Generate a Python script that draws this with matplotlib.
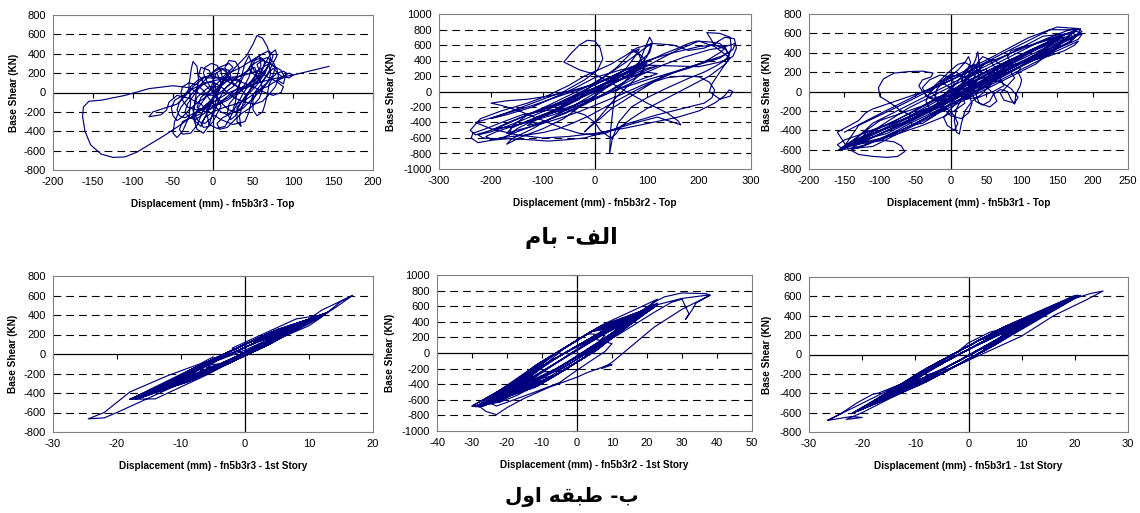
import matplotlib
matplotlib.use('Agg')
import matplotlib.pyplot as plt

plt.rcParams['font.family'] = ['Liberation Sans', 'DejaVu Sans']
plt.rcParams['axes.unicode_minus'] = False

# ---------------- data (displacement mm, base shear kN) ----------------
top_r3 = [(0,0),(10,80),(25,150),(35,120),(30,40),(15,-60),(0,-150),(-10,-200),(-20,-150),(-15,-50),(0,50),(15,180),
          (25,260),(20,300),(5,250),(-10,130),(-25,0),(-40,-150),(-48,-300),(-50,-420),(-45,-465),(-38,-400),(-30,-250),
          (-28,-100),(-30,80),(-27,250),(-25,320),(-20,270),(-18,120),(-22,-60),(-25,-250),(-20,-380),(-12,-420),(-5,-340),
          (0,-200),(5,-50),(10,100),(20,200),(35,260),(50,340),(58,380),(60,280),(52,150),(40,20),(30,-120),(22,-250),
          (15,-350),(5,-370),(-5,-330),(-8,-200),(0,-50),(12,120),(28,260),(42,380),(50,500),(55,590),(62,560),(68,470),
          (72,350),(65,200),(55,80),(42,-40),(30,-150),(30,-300),(35,-350),(33,-250),(38,-100),(48,60),(62,250),(72,400),
          (78,440),(80,380),(70,220),(60,80),(50,-20),(45,-200),(40,-300),(25,-330),(10,-280),(-5,-200),(-15,-120),
          (-30,-60),(-45,-30),(-55,-100),(-58,-180),(-65,-230),(-80,-250),(-75,-200),(-60,-160),(-45,-120),(-35,-40),
          (-25,60),(-10,160),(5,200),(10,100),(0,-80),(-10,-250),(-15,-350),(-22,-300),(-25,-180),(-20,-50),(-5,60),
          (8,60),(15,130),(18,200),(12,240),(4,200),(0,120),(-3,30),(-10,-60),(-18,-150),(-22,-240),(-18,-300),
          (-10,-320),(-2,-260),(3,-170),(8,-60),(15,40),(25,120),(35,180),(45,230),(52,260),(55,200),(48,120),(38,40),
          (28,-40),(20,-120),(18,-220),(22,-280),(28,-240),(32,-150),(40,-40),(50,60),(58,150),(62,240),(65,320),
          (60,360),(52,330),(48,250),(45,160),(40,80),(30,10),(18,-60),(5,-120),(-8,-160),(-20,-180),(-32,-150),
          (-38,-80),(-40,0),(-38,60),(-30,100),(-20,80),(-12,20),(-5,-60),(2,-140),(10,-200),(18,-230),(25,-180),
          (28,-100),(30,0),(34,100),(40,200),(48,280),(58,330),(68,360),(75,320),(78,260),(75,180),(68,100),(60,20),
          (52,-40),(45,-100),(38,-160),(30,-200),(20,-180),(12,-120),(5,-40),(-2,40),(-8,120),(-12,200),(-10,260),
          (-2,300),(5,280),(10,220),(12,140),(10,60),(5,-20),(-5,-100),(-15,-170),(-25,-220),(-35,-260),(-42,-240),
          (-45,-180),(-42,-100),(-35,-20),(-28,60),(-20,120),(-12,160),(0,170),(12,140),(22,100),(30,60),(40,40),
          (50,80),(58,140),(65,220),(70,280),(72,200),(70,120),(62,60),(55,0),(50,-80),(50,-180),(55,-240),(62,-200),
          (65,-120),(68,-20),(70,80),(75,160),(80,200),(88,220),(92,200),(90,160),(82,130),(75,100),(68,60),(60,40),
          (50,-20),(40,-80),(28,-120),(15,-150),(0,-200),(-10,-260),(-15,-320),(-12,-360),(-5,-350),(0,-300),
          (5,-220),(10,-140),(0,0),(-10,80),(-18,180),(-15,260),(-5,230),(0,140),(3,40),(0,-60),(-8,-150),
          (-15,-220),(-28,-260),(-38,-300),(-42,-380),(-38,-430),(-28,-420),(-20,-340),(-15,-240),(-10,-140),
          (0,-60),(12,20),(22,90),(30,170),(33,250),(28,320),(20,330),(15,260),(18,180),(25,100),(35,30),(42,-40),
          (40,-120),(32,-180),(22,-220),(12,-260),(5,-320),(8,-380),(18,-360),(25,-300),(35,-220),(48,-150),
          (58,-60),(62,30),(60,110),(52,180),(45,250),(50,330),(62,400),(70,430),(75,380),(72,300),(65,230),
          (58,170),(48,100),(38,40),(28,-20),(18,-80),(5,-130),(-5,-180),(-15,-240),(-22,-280),(-30,-260),
          (-35,-200),(-32,-120),(-25,-40),(-18,40),(-10,100),(0,110),(10,60),(18,0),(28,-60),(40,-100),(52,-120),
          (62,-90),(70,-20),(78,60),(82,150),(80,240),(72,300),(62,330),(55,290),(58,220),(68,160),(80,110),
          (88,60),(85,0),(75,-30),(62,10),(50,60),(38,100),(25,130),(12,140),(0,120),(-12,90),(-25,40),(-35,-20),
          (-48,-80),(-52,-160),(-50,-240),(-45,-290),(-38,-250),(-30,-180),(-20,-110),(-8,-40),(5,30),(15,100),
          (22,170),(20,230),(10,250),(0,210),(-8,150),(15,150),(35,170),(55,220),(70,300),(85,230),(90,150),
          (88,90),(80,130),(95,200),(100,180),(95,150),(85,170),(75,250),(68,180),(60,100),(50,250),(45,380),
          (40,300),(35,150),(25,60),(15,0),(0,-30),(-15,-20),(-30,50),(-50,70),(-80,40),(-110,-30),(-140,-80),
          (-155,-90),(-162,-150),(-163,-250),(-160,-400),(-153,-540),(-140,-635),(-125,-670),(-110,-665),
          (-95,-615),(-80,-540),(-60,-440),(-40,-330),(-20,-210),(0,-100),(20,0),(40,60),(60,110),(80,150),
          (100,180),(120,220),(145,270)]

top_r2 = [(0,0),(30,150),(60,300),(80,480),(85,550),(70,500),(40,300),(0,100),(-40,-80),(-80,-250),(-120,-380),
          (-150,-480),(-165,-560),(-160,-450),(-130,-300),(-90,-180),(-50,-50),(-10,80),(20,200),(60,380),(100,580),
          (110,620),(105,500),(80,350),(40,150),(0,-50),(-30,-200),(-60,-350),(-100,-480),(-140,-580),(-170,-680),
          (-160,-610),(-120,-480),(-80,-330),(-40,-180),(0,-20),(40,120),(80,260),(120,400),(160,540),(200,650),
          (230,580),(250,480),(260,430),(250,350),(220,200),(180,60),(140,-80),(100,-220),(70,-350),(50,-450),
          (40,-550),(30,-600),(10,-500),(0,-400),(-20,-300),(-60,-220),(-100,-250),(-140,-300),(-180,-400),
          (-210,-480),(-235,-540),(-238,-600),(-225,-660),(-200,-630),(-170,-610),(-130,-620),(-90,-640),(-50,-620),
          (-20,-600),(10,-540),(40,-480),(80,-400),(120,-330),(165,-430),(160,-380),(140,-280),(100,-150),(60,0),
          (20,150),(0,220),(-30,280),(-60,380),(-45,500),(-30,600),(-15,660),(0,650),(10,560),(15,420),(5,280),
          (-20,150),(-60,0),(-100,-100),(-140,-200),(-180,-300),(-200,-350),(-170,-300),(-120,-200),(-80,-80),
          (-40,40),(0,180),(50,280),(100,340),(150,330),(200,320),(240,380),(265,450),(272,560),(268,680),(250,700),
          (230,620),(210,560),(180,530),(150,600),(110,620),(80,560),(60,470),(30,350),(0,260),(-20,200),(-50,80),
          (-90,-50),(-130,-150),(-180,-250),(-220,-350),(-240,-500),(-230,-560),(-200,-500),(-160,-380),(-110,-250),
          (-60,-120),(-10,20),(40,170),(80,300),(105,700),(110,640),(100,450),(80,280),(60,150),(40,0),(35,-200),
          (30,-500),(28,-800),(33,-620),(45,-400),(70,-200),(100,-80),(140,50),(180,170),(210,250),(230,320),
          (250,400),(258,480),(250,550),(230,600),(215,760),(240,750),(260,700),(262,560),(255,400),(240,250),
          (225,100),(220,0),(240,-100),(260,-60),(265,0),(258,20),(250,-50),(230,-150),(200,-250),(160,-330),
          (110,-400),(60,-470),(0,-540),(-50,-580),(-100,-600),(-150,-560),(-200,-480),(-230,-400),
          (-180,-300),(-120,-180),(-60,-40),(0,100),(50,250),(100,400),(150,500),(200,580),(230,600),(250,580),
          (255,500),(240,430),(200,350),(150,250),(100,150),(50,40),(0,-80),(-50,-200),(-100,-320),(-150,-430),
          (-190,-520),(-210,-580),(-200,-620),(-180,-600),(-150,-520),(-110,-420),(-70,-310),(-30,-190),(10,-60),
          (50,80),(90,220),(130,340),(170,440),(200,500),(220,540),(240,560),(260,600),(270,620),(265,540),
          (245,460),(210,380),(170,290),(130,190),(90,80),(50,-40),(10,-150),(-30,-260),(-70,-350),(-110,-430),
          (-150,-500),(-170,-540),(-160,-470),(-130,-380),(-90,-270),(-50,-150),(-10,-30),(30,90),(70,210),
          (100,300),(120,330),(100,280),(70,180),(40,60),(10,-60),(-20,-170),(-60,-290),(-100,-390),(-130,-440),
          (-110,-350),(-80,-250),(-40,-120),(0,10),(40,130),(75,250),(90,380),(85,470),(70,540),(80,520),(95,420),
          (95,300),(80,180),(60,50),(40,-80),(25,-200),(10,-320),(-5,-430),(-20,-520),(-10,-450),(10,-350),
          (30,-230),(60,-100),(90,30),(120,150),(150,240),(180,300),(200,350),(220,420),(240,500),(250,560),
          (240,620),(220,640),(195,650),(180,620),(160,560),(130,480),(100,380),(70,280),(40,180),(10,80),
          (-20,-20),(-60,-140),(-100,-260),(-140,-370),(-170,-450),(-200,-520),(-225,-560),(-215,-600),(-190,-610),
          (-160,-580),(-130,-560),(-100,-530),(-70,-480),(-40,-400),(-10,-310),(20,-200),(50,-90),(80,20),
          (110,120),(140,180),(170,200),(200,190),(220,120),(230,20),(225,-80),(210,-150),(180,-200),(150,-250),
          (120,-300),(90,-360),(60,-420),(40,-480),(20,-540),(0,-560),(-30,-540),(-60,-480),(-90,-400),
          (-120,-320),(-150,-240),(-180,-180),(-200,-150),(-170,-120),(-130,-100),(-90,-60),(-50,0),(-10,80),
          (30,170),(70,260),(100,330),(60,250),(20,150),(-10,60),(-30,-100),(-60,-200),(-90,-300),(-120,-350),
          (-100,-300),(-60,-240),(-30,-150),(0,-60),(20,40),(40,120),(60,200),(80,280),(90,350),(70,320),
          (40,220),(10,120),(-20,20),(-50,-80),(-80,-180),(-110,-260),(-140,-330),(-170,-420),(-190,-480),
          (-160,-450),(-120,-380),(-80,-300),(-40,-200),(0,-100),(30,-10),(60,80),(90,160),(120,230),(100,250),
          (60,180),(20,100),(-10,20),(-40,-60),(-70,-150),(-100,-230),(-80,-200),(-50,-130),(-20,-40),(10,60),
          (40,160),(70,260),(100,360),(80,330)]

top_r1 = [(0,0),(12,60),(25,140),(35,200),(38,260),(32,280),(22,230),(15,150),(5,60),(-5,-20),(-15,-90),(-25,-160),
          (-30,-220),(-25,-250),(-15,-200),(-8,-120),(0,-40),(10,40),(20,120),(28,210),(35,330),(38,410),(40,300),
          (42,180),(35,80),(25,0),(15,-80),(8,-180),(5,-300),(8,-420),(12,-440),(15,-330),(20,-200),(30,-100),
          (45,-20),(55,60),(60,150),(62,250),(55,330),(45,360),(38,300),(30,200),(20,100),(10,10),(0,-80),
          (-10,-140),(-20,-180),(-30,-170),(-35,-100),(-30,-20),(-20,60),(-10,120),(0,180),(8,200),(15,160),(18,80),
          (12,0),(0,-60),(-12,-100),(-22,-60),(-20,20),(-10,100),(0,160),(10,220),(20,300),(25,360),(28,300),
          (22,200),(15,110),(30,130),(50,200),(70,280),(90,350),(110,420),(130,490),(150,550),(165,600),(175,630),
          (183,650),(180,600),(170,560),(155,510),(140,450),(120,380),(100,300),(80,220),(60,140),(40,60),(20,-20),
          (0,-100),(-20,-170),(-40,-240),(-60,-310),(-80,-380),(-100,-440),(-120,-500),(-140,-550),(-152,-590),
          (-157,-600),(-150,-560),(-135,-500),(-115,-430),(-95,-360),(-75,-290),(-55,-210),(-35,-130),(-15,-50),
          (5,30),(25,110),(45,190),(65,260),(85,330),(105,390),(125,450),(140,500),(148,530),(140,470),(125,400),
          (105,320),(85,250),(65,180),(45,100),(25,20),(5,-60),(-15,-140),(-35,-200),(-55,-250),(-70,-200),
          (-85,-120),(-100,-50),(-102,40),(-95,130),(-80,190),(-60,205),(-40,210),(-25,190),(-28,150),(-40,120),
          (-45,60),(-40,0),(-30,-60),(-15,-80),(0,-40),(15,30),(30,90),(50,170),(70,240),(90,310),(110,390),
          (125,460),(138,520),(150,560),(160,590),(170,610),(178,620),(185,590),(180,540),(165,490),(145,430),
          (125,360),(105,280),(85,200),(65,120),(45,40),(25,-40),(5,-110),(-15,-180),(-35,-250),(-55,-320),
          (-75,-400),(-95,-470),(-115,-540),(-130,-580),(-140,-600),(-135,-540),(-120,-470),(-100,-400),(-80,-330),
          (-60,-260),(-40,-180),(-20,-100),(0,-20),(20,60),(40,140),(60,220),(80,300),(100,380),(120,450),
          (135,500),(150,540),(160,560),(155,500),(140,440),(120,370),(100,290),(80,220),(60,150),(40,70),(20,-10),
          (0,-90),(-20,-160),(-40,-230),(-60,-300),(-80,-370),(-100,-440),(-120,-510),(-135,-560),(-140,-610),
          (-130,-650),(-110,-670),(-90,-680),(-75,-670),(-65,-620),(-70,-560),(-80,-520),(-100,-500),(-115,-520),
          (-125,-480),(-120,-420),(-100,-370),(-80,-320),(-60,-270),(-40,-200),(-20,-130),(0,-60),(20,10),(40,90),
          (60,170),(75,240),(85,300),(80,360),(85,420),(100,460),(115,480),(130,520),(145,560),(160,590),(172,600),
          (178,580),(170,520),(155,470),(135,410),(115,340),(100,270),(95,200),(100,120),(98,60),(92,-30),(90,-130),
          (85,-80),(80,0),(70,20),(60,-30),(55,-100),(45,-140),(35,-100),(30,-20),(25,60),(40,130),(60,210),
          (80,290),(100,360),(120,430),(140,490),(160,540),(175,570),(185,600),(175,560),(160,510),(145,460),
          (125,400),(105,330),(85,260),(65,190),(45,110),(25,30),(5,-50),(-15,-130),(-35,-200),(-55,-280),
          (-75,-350),(-95,-420),(-115,-490),(-135,-540),(-155,-580),(-160,-550),(-150,-500),(-130,-450),(-110,-400),
          (-90,-340),(-70,-270),(-50,-200),(-30,-120),(-10,-40),(10,40),(30,120),(50,200),(70,270),(90,340),
          (110,420),(130,480),(150,530),(168,580),(175,560),(165,500),(150,440),(130,370),(110,300),(90,230),
          (70,150),(50,70),(30,-10),(10,-90),(-10,-170),(-30,-250),(-50,-330),(-70,-400),(-90,-460),(-110,-520),
          (-125,-560),(-145,-590),(-160,-420),(-150,-380),(-130,-300),(-120,-220),(-110,-180),(-90,-130),(-70,-80),
          (-50,-30),(-30,20),(-10,80),(10,150),(30,220),(50,290),(70,350),(90,410),(110,470),(130,530),(150,590),
          (165,630),(175,650),(180,640),(185,620),(178,580),(165,540),(150,500),(130,440),(110,370),(90,300),
          (70,220),(50,140),(30,60),(10,-20),(-10,-100),(-30,-170),(-50,-240),(-70,-310),(-90,-380),(-110,-450),
          (-130,-510),(-150,-570),(-158,-600),(-120,-520),(-80,-450),(-40,-350),(-10,-260),(5,-200),(20,-120),
          (15,-40),(0,40),(-15,100),(-5,150),(10,170),(25,130),(35,50),(30,-30),(20,-80),(40,-60),(60,0),
          (75,60),(70,130),(55,160),(60,230),(80,260),(100,300),(120,330),(140,370),(160,420),(175,480),(180,520),
          (150,420),(110,300),(70,160),(40,60),(20,-20),(-20,-100),(-35,-50),(-40,40),(-30,120),(-15,170),(0,150),
          (5,80),(-5,0),(-15,-80),(-10,-180),(0,-250),(15,-280),(25,-220),(30,-120),(25,-30),(15,40),(20,130),
          (35,200),(50,230),(55,160),(45,80),(35,-20),(40,-120),(55,-160),(65,-100),(60,-20),(50,50),(55,130),
          (70,180),(85,200),(90,140),(80,60),(70,-20),(75,-90),(90,-120),(95,-60),(85,30),(70,100),(55,120),
          (40,70),(25,-10),(10,-100),(0,-180),(-10,-270),(-5,-350),(5,-400),(10,-330),(5,-250),(-5,-180),
          (-20,-150),(-35,-180),(-50,-230),(-60,-280),(-55,-340),(-40,-330),(-25,-260),(-10,-180),(5,-90),(20,0),
          (30,90),(35,180),(30,260),(20,300),(10,280),(0,220),(-10,150),(-20,80),(-30,10),(-20,-60),(0,-40),
          (15,20),(30,60),(40,140),(38,220),(50,300),(60,330),(70,280),(65,200),(50,150),(30,100),(15,60),(0,0),
          (-40,-150),(-100,-300),(-150,-565),(-100,-510),(-40,-290),(20,-66),(80,156),(140,378),(175,637),
          (140,638),(100,490),(40,268),(-20,46),(-80,-176),(-130,-350),(-150,-565),(-140,-530),(-90,-433),
          (-30,-211),(30,11),(90,233),(150,455),(170,600),(130,571),(70,339),(10,117),(-50,-105),(-110,-327),
          (-140,-530),(-120,-454),(-70,-329),(-10,-130),(50,95),(110,337),(160,582),(120,494),(60,272),(0,50),
          (-60,-172),(-120,-454),(-155,-600),(-110,-567),(-60,-382),(0,-160),(60,62),(120,284),(165,560),
          (180,650),(150,665),(110,557),(60,362),(0,140),(-60,-82),(-110,-267),(-150,-420)]

first_r3 = [(-5,-110),(-2,-80),(1,15),(4,160),(1,130),(-2,35),
            (-6,-140),(-2,-80),(2,45),(5,190),(2,160),(-2,35),
            (-9,-230),(-4,-140),(3,75),(7,250),(3,190),(-4,-25),
            (-11,-290),(-5,-170),(2,45),(8,280),(1,130),(-6,-85),
            (-13,-350),(-6,-200),(3,75),(10,340),(4,220),(-5,-55),
            (-14,-380),(-7,-230),(2,45),(11,370),(3,190),(-7,-115),
            (-15,-410),(-6,-200),(4,105),(12,400),(5,250),(-6,-85),
            (-16,-440),(-8,-260),(3,75),(12.5,415),(4,220),(-8,-145),
            (-17,-460),(-7,-230),(4,105),(13,430),(3,190),(-9,-175),
            (-18,-465),(-9,-290),(2,45),(12,400),(5,250),(-8,-145),
            (-16.5,-455),(-8,-260),(3,75),(11.5,385),(4,220),(-7,-115),
            (-15,-410),(-7,-230),(2,45),(10.5,355),(3,190),(-6,-85),
            (-12,-320),(-5,-170),(2,45),(9,310),(3,190),(-5,-55),
            (-10,-260),(-4,-140),(1,15),(6,220),(1,130),(-4,-25),
            (-7,-170),(-3,-110),(1,15),(4,160),(1,130),(-3,5),
            (-17,-460),(-10,-290),(0,15),(12,400),(3,160),(-8,-175),
            (-15,-410),(-9,-260),(-1,-15),(11,370),(4,190),(-6,-115),
            (-13,-350),(-7,-200),(1,45),(10,340),(2,130),(-9,-205),
            (-18,-465),(-11,-320),(-2,-45),(13,430),(6,250),(-5,-85),
            (-16,-440),(-12,-350),(-3,-75),(12.5,415),(7,280),(-4,-55),
            (-14,-380),(-8,-230),(0,15),(9,310),(1,100),(-10,-235),
            (-11,-290),(-6,-170),(2,75),(7,250),(0,70),(-7,-145),
            (-9,-230),(-3,-80),(-1,-15),(5,190),(2,130),(-6,-115),
            (-18,-465),(-14,-460),(-6,-215),(12,400),(8,360),(-2,60),
            (0,0),(5,150),(10,310),(14,470),(16.8,600),(15,540),(12,380),(10,290),(5,150),(0,0),(-5,-150),
            (-10,-300),(-15,-450),(-20,-600),(-22,-655),(-24.5,-665),(-22,-600),(-18,-390),(-12,-220),
            (-7,-100),(-5,-30),(-4,-60),(0,40),(4,160),(8,270),(12,450),(16.8,600)]

first_r2 = [(-10,-240),(-4,-234),(2,-58),(8,228),(3,248),(-4,46),
            (-15,-370),(-6,-286),(3,-32),(12,332),(4,274),(-6,-6),
            (-20,-500),(-8,-338),(4,-6),(16,436),(5,300),(-8,-58),
            (-24,-604),(-10,-390),(5,20),(19,514),(6,326),(-10,-110),
            (-27,-682),(-11,-416),(5,20),(21,566),(7,352),(-11,-136),
            (-29,-690),(-12,-442),(6,46),(23,690),(8,378),(-12,-162),
            (-26,-656),(-10,-390),(4,-6),(22,592),(6,326),(-9,-84),
            (-22,-552),(-9,-364),(3,-32),(20,540),(5,300),(-8,-58),
            (-18,-448),(-7,-312),(3,-32),(17,462),(4,274),(-7,-32),
            (-28,-680),(-11,-416),(5,20),(22.5,605),(7,352),(-11,-136),
            (-25,-630),(-10,-390),(4,-6),(18,488),(5,300),(-9,-84),
            (-21,-526),(-8,-338),(3,-32),(14,384),(4,274),(-7,-32),
            (-28,-690),(-18,-518),(0,-50),(22,620),(10,350),(-14,-274),
            (-25,-630),(-15,-440),(5,80),(20,540),(3,168),(-16,-326),
            (-22,-552),(-12,-362),(-2,-102),(18,488),(8,298),(-5,-40),
            (-20,-500),(-5,-180),(8,158),(15,410),(0,90),(-12,-222),
            (-27,-682),(-20,-570),(10,210),(23,618),(15,480),(-8,-118),
            (-24,-604),(-10,-310),(2,2),(19,514),(12,402),(-18,-378),
            (-17,-422),(-9,-284),(3,28),(13,358),(-3,12),(-10,-170),
            (-30,-680),(-22,-622),(-6,-206),(21,566),(5,220),(-20,-430),
            (-30,-680),(-28,-690),(-24,-620),(-19,-490),(-14,-350),(-9,-210),(-4,-70),(1,70),(6,210),(11,350),
            (16,480),(20,580),(23,640),(22,580),(18,470),(13,320),(8,160),(3,10),(-2,-140),(-7,-280),(-12,-420),
            (-17,-540),(-22,-630),(-26,-660),(-23,-600),(-18,-470),(-13,-330),(-8,-190),(-3,-50),(2,90),(7,230),
            (12,370),(17,500),(22,650),(25,720),(30,770),(37,760),(38,740),(34,640),(33,560),(31,430),(32,500),
            (30,690),(27,650),(22,520),(17,380),(12,240),(7,110),(3,0),(0,-80),(-4,-180),(-9,-300),(-15,-440),
            (-20,-560),(-22,-600),(-20,-540),(-15,-400),(-10,-250),(-5,-100),(0,50),(5,180),(10,120),(8,20),
            (4,-100),(0,-220),(-5,-380),(-12,-500),(-18,-600),(-23,-680),(-25,-640),(-20,-500),(-14,-340),
            (-8,-180),(-2,-20),(4,140),(10,300),(16,450),(23,620),(30,700),(37,740),(38,740),(30,560),(22,330),
            (14,30),(10,-120),(7,-200),(10,-150),(8,-170),(3,-250),(0,-310),(-8,-440),(-15,-580),(-20,-700),
            (-23,-790),(-26,-750),(-28,-680)]

first_r1 = [(-8,-212),(-3,-137),(2,13),(7,223),(2,148),(-3,-2),
            (-12,-328),(-5,-195),(3,42),(10,310),(3,177),(-4,-31),
            (-15,-415),(-6,-224),(3,42),(13,397),(5,235),(-6,-89),
            (-18,-502),(-7,-253),(4,71),(16,484),(5,235),(-7,-118),
            (-20,-560),(-8,-282),(4,71),(18,542),(6,264),(-8,-147),
            (-21,-589),(-8,-282),(5,100),(20,610),(7,293),(-8,-147),
            (-19,-531),(-7,-253),(5,100),(19,571),(6,264),(-7,-118),
            (-17,-473),(-6,-224),(4,71),(17,513),(5,235),(-6,-89),
            (-22,-610),(-9,-311),(4,71),(20.5,614),(7,293),(-9,-176),
            (-20.5,-575),(-8,-282),(5,100),(21,610),(6,264),(-8,-147),
            (-16,-444),(-6,-224),(3,42),(15,455),(4,206),(-6,-89),
            (-13,-357),(-5,-195),(3,42),(12,368),(4,206),(-5,-60),
            (-10,-270),(-4,-166),(2,13),(8,252),(2,148),(-3,-2),
            (-20,-560),(-12,-363),(0,-10),(19,571),(5,200),(-9,-211),
            (-18,-502),(-10,-305),(2,48),(17,513),(8,287),(-6,-124),
            (-16,-444),(-11,-334),(-1,-39),(15,455),(3,142),(-10,-240),
            (-21,-589),(-14,-421),(-3,-97),(20,600),(10,345),(-4,-66),
            (-14,-386),(-6,-189),(6,164),(13,397),(1,84),(-8,-182),
            (-22,-610),(-15,-450),(9,251),(21,610),(12,403),(-12,-298),
            (-19,-531),(-13,-392),(7,193),(18,542),(-2,-3),(-14,-356),
            (-12,-328),(-2,-73),(5,135),(10,310),(-1,26),(-6,-124),
            (-26.5,-680),(-24,-610),(-21,-500),(-18,-410),(-17,-400),(-12,-290),(-8,-190),(-4,-60),(0,120),
            (4,230),(8,290),(12,350),(15,470),(18,540),(20,580),(23,630),(25.3,655),(22,560),(16,400),(10,190),
            (4,40),(0,-60),(-5,-190),(-10,-330),(-15,-460),(-20,-600),(-23,-670),(-20,-650),(-22,-640),(-26.5,-680)]

top_caption = "\uFEE1\uFE8E\uFE91 -\uFED2\uFEDF\uFE8D"                 # الف- بام
bottom_caption = "\uFEDD\uFEED\uFE8D \uFEEA\uFED8\uFE92\uFEC3 -\uFE8F"   # ب- طبقه اول

panels = [
    dict(data=top_r3, xt=list(range(-200, 201, 50)), yt=list(range(-800, 801, 200)),
         xl="Displacement (mm) - fn5b3r3 - Top", box=(53, 15, 373, 170), ylx=14),
    dict(data=top_r2, xt=list(range(-300, 301, 100)), yt=list(range(-1000, 1001, 200)),
         xl="Displacement (mm) - fn5b3r2 - Top", box=(439, 14, 751, 169), ylx=391),
    dict(data=top_r1, xt=list(range(-200, 251, 50)), yt=list(range(-800, 801, 200)),
         xl="Displacement (mm) - fn5b3r1 - Top", box=(809, 14, 1128, 169), ylx=767),
    dict(data=first_r3, xt=list(range(-30, 21, 10)), yt=list(range(-800, 801, 200)),
         xl="Displacement (mm) - fn5b3r3 - 1st Story", box=(53, 276, 373, 432), ylx=13),
    dict(data=first_r2, xt=list(range(-40, 51, 10)), yt=list(range(-1000, 1001, 200)),
         xl="Displacement (mm) - fn5b3r2 - 1st Story", box=(437, 275, 752, 431), ylx=390),
    dict(data=first_r1, xt=list(range(-30, 31, 10)), yt=list(range(-800, 801, 200)),
         xl="Displacement (mm) - fn5b3r1 - 1st Story", box=(809, 277, 1128, 432), ylx=767),
]

W, H = 1140, 513
fig = plt.figure(figsize=(W / 100, H / 100), dpi=100)
fig.patch.set_facecolor('white')

for p in panels:
    l, t, r, b = p['box']
    ax = fig.add_axes([l / W, 1 - b / H, (r - l) / W, (b - t) / H])
    xs = [q[0] for q in p['data']]
    ys = [q[1] for q in p['data']]
    ax.plot(xs, ys, color='#00007F', lw=0.85, zorder=3)
    xt, yt = p['xt'], p['yt']
    ax.set_xlim(xt[0], xt[-1])
    ax.set_ylim(yt[0], yt[-1])
    ax.set_xticks(xt)
    ax.set_yticks(yt)
    for v in yt[1:-1]:
        if v != 0:
            ax.axhline(v, color='black', lw=0.8, ls=(0, (7, 4.5)), zorder=1)
    ax.axhline(0, color='black', lw=0.9, zorder=2)
    ax.axvline(0, color='black', lw=0.9, zorder=2)
    # small Excel-style tick marks on the zero axes
    ax.plot(xt, [0] * len(xt), ls='none', marker=3, ms=3.5, mew=0.8, color='black', zorder=2, clip_on=False)
    ax.plot([0] * len(yt), yt, ls='none', marker=0, ms=3.5, mew=0.8, color='black', zorder=2, clip_on=False)
    for s in ax.spines.values():
        s.set_color('#808080')
        s.set_linewidth(0.8)
    ax.tick_params(length=0, labelsize=8, pad=5)
    ax.set_xlabel(p['xl'], fontsize=7.2, fontweight='bold')
    ax.set_ylabel("Base Shear (KN)", fontsize=7.2, fontweight='bold')
    ax.xaxis.set_label_coords(0.5, -34 / (b - t))
    ax.xaxis.label.set_verticalalignment('center')
    ax.yaxis.set_label_coords(-(l - p['ylx']) / (r - l), 0.5)
    ax.yaxis.label.set_verticalalignment('center')

fig.text(571 / W, 1 - 238 / H, top_caption, ha='center', va='center',
         fontsize=16, fontweight='bold', family='DejaVu Sans')
fig.text(572 / W, 1 - 497 / H, bottom_caption, ha='center', va='center',
         fontsize=14.5, fontweight='bold', family='DejaVu Sans')

fig.savefig('out.png', dpi=100, facecolor='white')
